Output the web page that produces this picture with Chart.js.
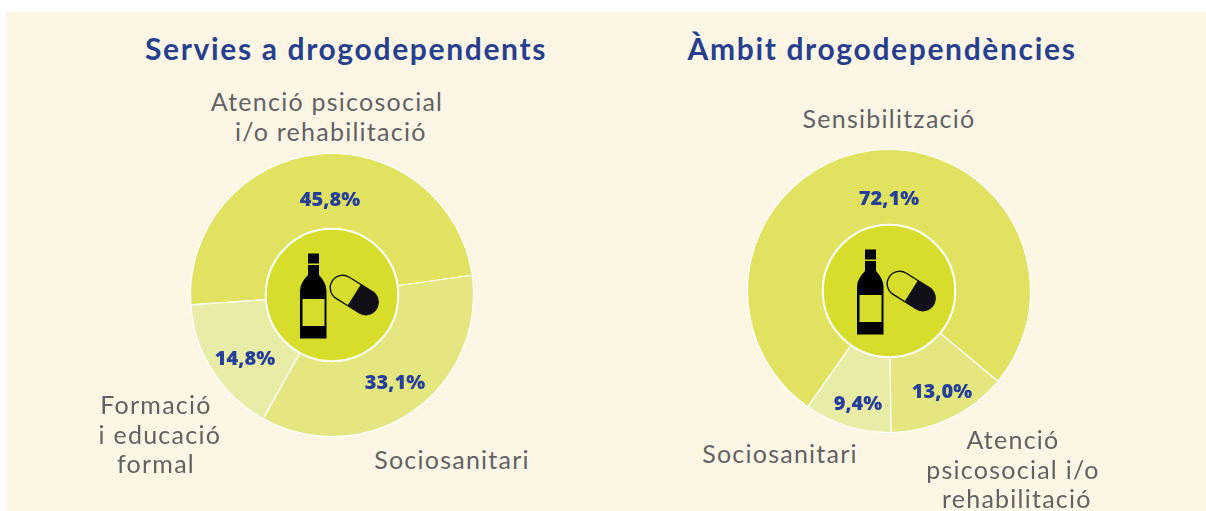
<!DOCTYPE html>
<html><head><meta charset="utf-8">
<script src="https://cdn.jsdelivr.net/npm/chart.js@4"></script>
<style>
html,body{margin:0;padding:0;background:#fff;width:1206px;height:511px;overflow:hidden}
#panel{position:absolute;left:7px;top:12px;width:1199px;height:499px;background:#fef6e4}
canvas{position:absolute}
.t{position:absolute;white-space:pre;text-align:center;font-family:Lato,sans-serif}
.title{font-weight:700;font-size:30px;line-height:36px;color:#263f8f;letter-spacing:1.65px}
.lab{font-weight:400;font-size:25px;line-height:29.5px;color:#626264;letter-spacing:1.25px}
</style></head><body>
<div id="panel"></div>
<div id="wrap"></div>
<script>
const titles = ["Servies a drogodependents", "Àmbit drogodependències"];
const categoriesA = ["Atenció psicosocial i/o rehabilitació", "Sociosanitari", "Formació i educació formal"];
const valuesA = [45.8, 33.1, 14.8];
const colorsA = ["#e0e260", "#e4e67f", "#e9eca6"];
const categoriesB = ["Sensibilització", "Atenció psicosocial i/o rehabilitació", "Sociosanitari"];
const valuesB = [72.1, 13.0, 9.4];
const colorsB = ["#e0e260", "#e4e67f", "#e9eca6"];

const fmt = v => v.toFixed(1).replace(".", ",") + "%";

const centerIcon = {
  id: "centerIcon",
  afterDatasetsDraw(chart, _a, o) {
    const c = chart.ctx, meta = chart.getDatasetMeta(0), a0 = meta.data[0];
    const x = a0.x, y = a0.y, r = a0.innerRadius;
    c.save();
    c.beginPath(); c.arc(x, y, r, 0, Math.PI * 2);
    c.fillStyle = "#d7dd2b"; c.fill();
    c.lineWidth = 2; c.strokeStyle = "#fff"; c.stroke();
    c.translate(x, y);
    // bottle
    c.fillStyle = "#000";
    c.fillRect(-24, -41.5, 11, 10);
    c.beginPath();
    c.moveTo(-24, -30); c.lineTo(-13, -30); c.lineTo(-13, -20);
    c.quadraticCurveTo(-5.5, -12, -5.5, -4); c.lineTo(-5.5, 43.5);
    c.lineTo(-32, 43.5); c.lineTo(-32, -4);
    c.quadraticCurveTo(-32, -12, -24, -20); c.closePath(); c.fill();
    c.fillStyle = "#d7dd2b";
    c.fillRect(-29.5, 4, 22, 27);
    // capsule
    c.translate(22.2, 0);
    c.rotate(Math.PI / 180 * 32);
    const h = 13.5, R = 12.5;
    c.beginPath(); c.arc(-h, 0, R, Math.PI / 2, Math.PI * 1.5);
    c.lineTo(h, -R); c.arc(h, 0, R, -Math.PI / 2, Math.PI / 2); c.closePath();
    c.lineWidth = 1.4; c.strokeStyle = "#111018"; c.stroke();
    c.beginPath(); c.moveTo(0, -R); c.lineTo(h, -R); c.arc(h, 0, R, -Math.PI / 2, Math.PI / 2);
    c.lineTo(0, R); c.closePath(); c.fillStyle = "#111018"; c.fill();
    c.restore();
    // value labels
    c.save();
    c.font = "800 20px 'Open Sans', sans-serif";
    c.fillStyle = "#263f9a";
    c.textAlign = "center"; c.textBaseline = "middle";
    const vals = chart.data.datasets[0].data;
    vals.forEach((v, i) => c.fillText(fmt(v), x + o.off[i][0], y + o.off[i][1]));
    c.restore();
  }
};

function donut(cx, cy, cats, vals, cols, rotation, off) {
  const S = 290;
  const cv = document.createElement("canvas");
  cv.width = S; cv.height = S;
  cv.style.cssText = `left:${cx - S / 2}px;top:${cy - S / 2}px;width:${S}px;height:${S}px`;
  document.getElementById("wrap").appendChild(cv);
  new Chart(cv, {
    type: "doughnut",
    data: { labels: cats, datasets: [{ data: vals, backgroundColor: cols, borderColor: "#fff", borderWidth: 1.2, hoverOffset: 0 }] },
    options: {
      responsive: false, animation: false, cutout: "46.8%", rotation,
      radius: 141.5,
      layout: { padding: 0 },
      plugins: { legend: { display: false }, tooltip: { enabled: false }, centerIcon: { off } }
    },
    plugins: [centerIcon]
  });
}
donut(331.5, 294.5, categoriesA, valuesA, colorsA, 266, [[-2, -95], [63, 88], [-87, 64]]);
donut(889, 290.5, categoriesB, valuesB, colorsB, 215, [[0, -92], [53, 101], [-31, 113]]);

function text(cls, s, cx, top) {
  const d = document.createElement("div");
  d.className = "t " + cls; d.textContent = s;
  d.style.left = cx + "px"; d.style.top = top + "px"; d.style.transform = "translateX(-50%)";
  document.body.appendChild(d);
}
text("title", titles[0], 346, 30);
text("title", titles[1], 882, 30);
text("lab", "Atenció psicosocial\n i/o rehabilitació", 327, 87);
text("lab", "Sociosanitari", 452, 445);
text("lab", "Formació\n i educació\nformal", 156, 390);
text("lab", "Sensibilització", 889, 104);
text("lab", "Sociosanitari", 780, 439);
text("lab", "Atenció\npsicosocial i/o\n rehabilitació", 1013, 425);
</script>
</body></html>
